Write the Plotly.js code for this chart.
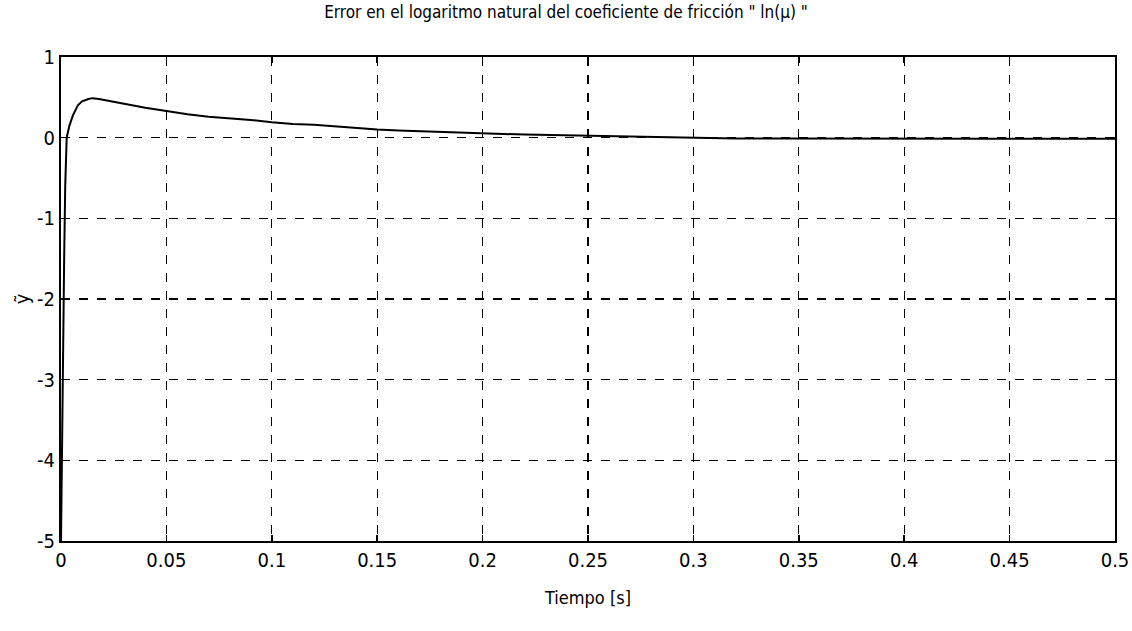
<!DOCTYPE html>
<html>
<head>
<meta charset="utf-8">
<script src="https://cdn.plot.ly/plotly-3.0.1.min.js"></script>
<style>html,body{margin:0;padding:0;background:#fff;}#chart{width:1132px;height:631px;}</style>
</head>
<body>
<div id="chart"></div>
<script>
const timeS = [0, 0.0005, 0.001, 0.0015, 0.002, 0.0027, 0.004, 0.0057, 0.008, 0.01, 0.013, 0.015, 0.018, 0.022, 0.03, 0.04, 0.05, 0.06, 0.07, 0.08, 0.09, 0.1, 0.11, 0.12, 0.13, 0.14, 0.15, 0.16, 0.17, 0.18, 0.19, 0.2, 0.21, 0.22, 0.23, 0.24, 0.25, 0.26, 0.27, 0.28, 0.29, 0.3, 0.32, 0.34, 0.36, 0.38, 0.4, 0.42, 0.44, 0.46, 0.48, 0.5];
const errLnMu = [-5, -3.6, -2.6, -1.5, -0.6, 0, 0.15, 0.28, 0.4, 0.45, 0.48, 0.49, 0.48, 0.46, 0.42, 0.37, 0.33, 0.29, 0.26, 0.24, 0.22, 0.19, 0.17, 0.16, 0.14, 0.12, 0.1, 0.09, 0.08, 0.07, 0.06, 0.05, 0.045, 0.04, 0.035, 0.03, 0.025, 0.015, 0.01, 0.005, 0, -0.005, -0.01, -0.01, -0.012, -0.01, -0.012, -0.01, -0.012, -0.012, -0.01, -0.012];
const xTicks = [0, 0.05, 0.1, 0.15, 0.2, 0.25, 0.3, 0.35, 0.4, 0.45, 0.5];
const xTickText = ['0', '0.05', '0.1', '0.15', '0.2', '0.25', '0.3', '0.35', '0.4', '0.45', '0.5'];
const yTicks = [-5, -4, -3, -2, -1, 0, 1];
const yTickText = ['-5', '-4', '-3', '-2', '-1', '0', '1'];

const font = '"Liberation Sans Narrow", "Arial Narrow", "DejaVu Sans Condensed", sans-serif';

Plotly.newPlot('chart', [{
  x: timeS, y: errLnMu, type: 'scatter', mode: 'lines',
  line: {color: '#000', width: 2}, showlegend: false, hoverinfo: 'skip'
}], {
  width: 1132, height: 631,
  margin: {l: 61, r: 17, t: 57, b: 90},
  paper_bgcolor: '#fff', plot_bgcolor: '#fff',
  font: {family: font, color: '#000', size: 17},
  title: {text: 'Error en el logaritmo natural del coeficiente de fricción " ln(μ) "', font: {family: font, size: 17, color: '#000'}, x: 0.5, xanchor: 'center', y: 0.99, yanchor: 'top'},
  xaxis: {
    range: [0, 0.5], tickvals: xTicks, ticktext: xTickText,
    showline: true, linecolor: '#000', linewidth: 2, mirror: 'ticks',
    ticks: 'inside', ticklen: 6, tickcolor: '#000', tickwidth: 1.5,
    showgrid: true, gridcolor: '#000', gridwidth: 1.3, griddash: 'dash',
    zeroline: false, tickfont: {family: font, size: 20, color: '#000'},
    title: {text: 'Tiempo [s]', font: {family: font, size: 18, color: '#000'}, standoff: 20}
  },
  yaxis: {
    range: [-5, 1], tickvals: yTicks, ticktext: yTickText,
    showline: true, linecolor: '#000', linewidth: 2, mirror: 'ticks',
    ticks: 'inside', ticklen: 6, tickcolor: '#000', tickwidth: 1.5,
    showgrid: true, gridcolor: '#000', gridwidth: 1.3, griddash: 'dash',
    zeroline: false, tickfont: {family: font, size: 20, color: '#000'},
    title: {text: 'ỹ', font: {family: font, size: 20, color: '#000'}, standoff: 2}
  }
}, {displayModeBar: false, staticPlot: true});
</script>
</body>
</html>
